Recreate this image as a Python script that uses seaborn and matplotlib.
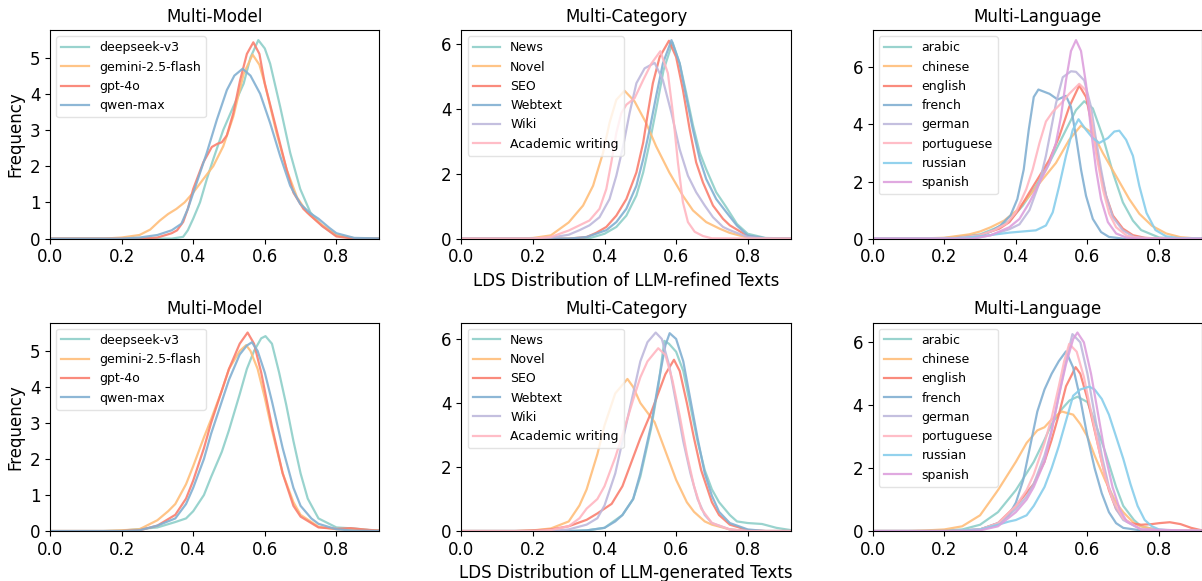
import matplotlib
matplotlib.use("Agg")
import matplotlib.pyplot as plt
import pandas as pd
import seaborn as sns

# colours used for the curves, in legend order
palette = ["#8ECFC9", "#FFBE7A", "#FA7F6F", "#82B0D2",
           "#BEB8DC", "#FFB6C1", "#87CEEB", "#DDA0DD"]

panel_titles = ["Multi-Model", "Multi-Category", "Multi-Language"]
row_xlabels = ["LDS Distribution of LLM-refined Texts",
               "LDS Distribution of LLM-generated Texts"]

# density curves, (LDS, density) pairs
refined_model = {
    "deepseek-v3": [(0.0, 0), (0.34, 0), (0.372, 0.05), (0.385, 0.23), (0.40, 0.55), (0.419, 1.0),
                    (0.438, 1.64), (0.456, 2.19), (0.484, 3.0), (0.512, 3.64), (0.541, 4.28), (0.56, 5.0),
                    (0.582, 5.48), (0.60, 5.25), (0.615, 4.83), (0.643, 3.64), (0.671, 2.37), (0.699, 1.37),
                    (0.727, 0.73), (0.76, 0.35), (0.80, 0.08), (0.85, 0.01), (0.95, 0)],
    "gemini-2.5-flash": [(0.0, 0), (0.15, 0), (0.20, 0.03), (0.25, 0.1), (0.28, 0.25), (0.307, 0.5),
                         (0.33, 0.68), (0.353, 0.82), (0.376, 1.0), (0.40, 1.27), (0.428, 1.64),
                         (0.456, 2.0), (0.484, 2.55), (0.512, 3.37), (0.541, 4.55), (0.566, 5.08),
                         (0.585, 4.8), (0.60, 4.28), (0.633, 2.91), (0.661, 1.91), (0.69, 1.14),
                         (0.718, 0.73), (0.75, 0.45), (0.80, 0.1), (0.85, 0.01), (0.95, 0)],
    "gpt-4o": [(0.0, 0), (0.25, 0), (0.30, 0.03), (0.34, 0.15), (0.355, 0.23), (0.372, 0.46),
               (0.385, 0.82), (0.40, 1.37), (0.428, 2.1), (0.452, 2.53), (0.468, 2.62), (0.48, 2.66),
               (0.494, 2.85), (0.512, 3.46), (0.531, 4.37), (0.55, 5.1), (0.568, 5.42), (0.585, 5.1),
               (0.60, 4.28), (0.633, 3.0), (0.661, 1.91), (0.68, 1.27), (0.708, 0.82), (0.727, 0.64),
               (0.76, 0.35), (0.80, 0.06), (0.85, 0), (0.95, 0)],
    "qwen-max": [(0.0, 0), (0.2, 0), (0.25, 0.03), (0.30, 0.1), (0.34, 0.23), (0.367, 0.41),
                 (0.385, 0.82), (0.41, 1.55), (0.438, 2.37), (0.466, 3.28), (0.494, 4.1),
                 (0.515, 4.5), (0.538, 4.69), (0.56, 4.5), (0.587, 4.0), (0.615, 3.19), (0.643, 2.28),
                 (0.671, 1.46), (0.699, 0.96), (0.727, 0.7), (0.75, 0.55), (0.78, 0.3), (0.80, 0.15),
                 (0.85, 0.02), (0.95, 0)],
}

refined_category = {
    "News": [(0.0, 0), (0.32, 0), (0.36, 0.02), (0.40, 0.15), (0.433, 0.36), (0.461, 0.71), (0.489, 1.33),
             (0.508, 2.04), (0.526, 2.96), (0.544, 3.97), (0.565, 5.2), (0.59, 6.05), (0.61, 5.4),
             (0.628, 4.5), (0.647, 3.5), (0.666, 2.65), (0.684, 2.14), (0.712, 1.43), (0.74, 0.97),
             (0.77, 0.45), (0.80, 0.15), (0.85, 0.02), (0.95, 0)],
    "Novel": [(0.0, 0), (0.15, 0), (0.20, 0.02), (0.25, 0.1), (0.30, 0.5), (0.34, 1.02), (0.368, 1.63),
              (0.396, 2.65), (0.414, 3.57), (0.433, 4.28), (0.456, 4.56), (0.484, 4.23), (0.516, 3.57),
              (0.544, 2.85), (0.581, 2.04), (0.619, 1.32), (0.647, 0.87), (0.684, 0.51), (0.721, 0.31),
              (0.749, 0.18), (0.80, 0.03), (0.85, 0), (0.95, 0)],
    "SEO": [(0.0, 0), (0.30, 0), (0.35, 0.05), (0.377, 0.18), (0.405, 0.36), (0.433, 0.71), (0.461, 1.22),
            (0.489, 2.04), (0.508, 2.96), (0.521, 3.87), (0.535, 4.79), (0.554, 5.6), (0.58, 6.1),
            (0.60, 5.6), (0.619, 4.59), (0.638, 3.36), (0.656, 2.35), (0.675, 1.73), (0.703, 1.02),
            (0.731, 0.61), (0.75, 0.41), (0.80, 0.08), (0.85, 0), (0.95, 0)],
    "Webtext": [(0.0, 0), (0.30, 0), (0.35, 0.05), (0.405, 0.26), (0.433, 0.51), (0.461, 0.92),
                (0.489, 1.63), (0.508, 2.45), (0.526, 3.36), (0.544, 4.38), (0.563, 5.4), (0.587, 6.12),
                (0.61, 5.4), (0.628, 4.38), (0.647, 3.36), (0.666, 2.45), (0.684, 1.84), (0.712, 1.22),
                (0.74, 0.82), (0.77, 0.4), (0.80, 0.1), (0.85, 0.01), (0.95, 0)],
    "Wiki": [(0.0, 0), (0.20, 0), (0.25, 0.03), (0.30, 0.12), (0.33, 0.26), (0.358, 0.41), (0.386, 0.66),
             (0.414, 1.22), (0.433, 1.94), (0.452, 2.85), (0.47, 3.87), (0.489, 4.79), (0.512, 5.25),
             (0.54, 5.42), (0.563, 4.89), (0.587, 3.87), (0.61, 2.75), (0.633, 1.94), (0.656, 1.43),
             (0.68, 1.02), (0.703, 0.66), (0.731, 0.36), (0.75, 0.26), (0.80, 0.05), (0.85, 0), (0.95, 0)],
    "Academic writing": [(0.0, 0), (0.20, 0), (0.25, 0.05), (0.30, 0.25), (0.33, 0.41), (0.358, 0.56),
                         (0.386, 0.92), (0.405, 1.53), (0.419, 2.35), (0.433, 3.26), (0.447, 3.87),
                         (0.461, 4.13), (0.484, 4.33), (0.508, 4.89), (0.531, 5.4), (0.556, 5.78),
                         (0.577, 5.1), (0.591, 3.87), (0.605, 2.35), (0.619, 1.12), (0.633, 0.51),
                         (0.652, 0.21), (0.675, 0.08), (0.70, 0.01), (0.95, 0)],
}

refined_language = {
    "arabic": [(0.0, 0), (0.15, 0), (0.20, 0.02), (0.30, 0.15), (0.35, 0.4), (0.382, 0.63), (0.419, 1.15),
               (0.456, 1.84), (0.484, 2.42), (0.512, 3.11), (0.54, 3.81), (0.568, 4.5), (0.591, 4.81),
               (0.615, 4.56), (0.643, 3.57), (0.671, 2.31), (0.699, 1.27), (0.727, 0.63), (0.75, 0.3),
               (0.80, 0.04), (0.85, 0), (0.95, 0)],
    "chinese": [(0.0, 0), (0.12, 0), (0.20, 0.03), (0.27, 0.15), (0.30, 0.25), (0.33, 0.4), (0.367, 0.63),
                (0.404, 1.0), (0.438, 1.5), (0.475, 2.08), (0.512, 2.65), (0.549, 3.46), (0.582, 3.96),
                (0.615, 3.69), (0.643, 3.0), (0.68, 2.19), (0.717, 1.38), (0.745, 0.87), (0.78, 0.45),
                (0.82, 0.18), (0.86, 0.05), (0.90, 0.01), (0.95, 0)],
    "english": [(0.0, 0), (0.22, 0), (0.30, 0.12), (0.354, 0.35), (0.382, 0.58), (0.41, 1.04),
                (0.438, 1.62), (0.466, 2.19), (0.494, 2.77), (0.521, 3.57), (0.549, 4.61), (0.577, 5.36),
                (0.596, 4.96), (0.615, 3.81), (0.633, 2.54), (0.652, 1.5), (0.671, 0.81), (0.699, 0.35),
                (0.727, 0.12), (0.76, 0.03), (0.80, 0), (0.95, 0)],
    "french": [(0.0, 0), (0.22, 0), (0.30, 0.1), (0.33, 0.25), (0.357, 0.46), (0.385, 0.81), (0.404, 1.38),
               (0.422, 2.42), (0.436, 3.81), (0.45, 4.96), (0.463, 5.22), (0.494, 5.07), (0.517, 4.87),
               (0.54, 5.0), (0.554, 4.61), (0.568, 3.57), (0.582, 2.42), (0.596, 1.5), (0.615, 0.69),
               (0.638, 0.23), (0.66, 0.06), (0.70, 0), (0.95, 0)],
    "german": [(0.0, 0), (0.28, 0), (0.33, 0.12), (0.382, 0.33), (0.41, 0.5), (0.438, 1.0), (0.466, 1.96),
               (0.484, 2.9), (0.498, 3.81), (0.512, 4.73), (0.531, 5.65), (0.554, 5.86), (0.568, 5.84),
               (0.591, 5.54), (0.61, 4.61), (0.624, 3.46), (0.638, 2.42), (0.652, 1.5), (0.671, 0.75),
               (0.699, 0.29), (0.73, 0.06), (0.78, 0), (0.95, 0)],
    "portuguese": [(0.0, 0), (0.22, 0), (0.30, 0.12), (0.34, 0.3), (0.373, 0.52), (0.40, 0.92),
                   (0.429, 1.73), (0.447, 2.42), (0.466, 3.35), (0.484, 4.1), (0.503, 4.44), (0.526, 4.73),
                   (0.549, 5.07), (0.577, 5.42), (0.596, 5.19), (0.61, 4.27), (0.624, 3.0), (0.643, 1.73),
                   (0.661, 0.87), (0.68, 0.4), (0.71, 0.1), (0.75, 0.01), (0.95, 0)],
    "russian": [(0.0, 0), (0.22, 0), (0.28, 0.06), (0.326, 0.12), (0.382, 0.21), (0.456, 0.29),
                (0.484, 0.46), (0.503, 0.92), (0.521, 1.84), (0.54, 2.9), (0.559, 3.81), (0.575, 4.18),
                (0.596, 3.81), (0.615, 3.52), (0.633, 3.35), (0.657, 3.52), (0.675, 3.75), (0.689, 3.78),
                (0.708, 3.46), (0.727, 2.9), (0.745, 1.84), (0.765, 0.9), (0.79, 0.3), (0.82, 0.08),
                (0.86, 0.01), (0.95, 0)],
    "spanish": [(0.0, 0), (0.28, 0), (0.33, 0.12), (0.382, 0.4), (0.41, 0.69), (0.438, 1.27), (0.466, 1.96),
                (0.494, 2.65), (0.512, 3.35), (0.526, 4.27), (0.54, 5.54), (0.554, 6.57), (0.568, 6.95),
                (0.582, 6.57), (0.596, 5.42), (0.61, 3.8), (0.624, 2.42), (0.638, 1.38), (0.657, 0.58),
                (0.68, 0.18), (0.71, 0.03), (0.75, 0), (0.95, 0)],
}

generated_model = {
    "deepseek-v3": [(0.0, 0), (0.15, 0), (0.20, 0.01), (0.30, 0.1), (0.35, 0.25), (0.38, 0.35),
                    (0.40, 0.55), (0.43, 1.0), (0.45, 1.5), (0.48, 2.2), (0.50, 2.8), (0.53, 3.8),
                    (0.55, 4.5), (0.57, 5.0), (0.59, 5.35), (0.602, 5.41), (0.62, 5.2), (0.64, 4.4),
                    (0.66, 3.5), (0.68, 2.5), (0.70, 1.6), (0.72, 0.9), (0.75, 0.35), (0.80, 0.1),
                    (0.85, 0.07), (0.90, 0.02), (0.95, 0)],
    "gemini-2.5-flash": [(0.0, 0), (0.15, 0), (0.20, 0.02), (0.25, 0.05), (0.30, 0.3), (0.33, 0.55),
                         (0.35, 0.75), (0.38, 1.3), (0.40, 1.8), (0.43, 2.6), (0.45, 3.1), (0.48, 3.9),
                         (0.50, 4.5), (0.53, 5.0), (0.548, 5.16), (0.56, 5.0), (0.58, 4.5), (0.60, 3.7),
                         (0.62, 2.8), (0.65, 1.6), (0.68, 0.8), (0.70, 0.45), (0.75, 0.12), (0.80, 0.05),
                         (0.85, 0.05), (0.90, 0.02), (0.95, 0)],
    "gpt-4o": [(0.0, 0), (0.20, 0), (0.25, 0.02), (0.30, 0.15), (0.35, 0.45), (0.38, 0.9), (0.40, 1.4),
               (0.43, 2.3), (0.45, 3.0), (0.48, 3.9), (0.50, 4.5), (0.53, 5.2), (0.552, 5.51), (0.57, 5.2),
               (0.59, 4.4), (0.60, 3.9), (0.62, 2.9), (0.65, 1.6), (0.68, 0.7), (0.70, 0.4), (0.75, 0.1),
               (0.80, 0.06), (0.84, 0.08), (0.88, 0.04), (0.92, 0.01), (0.95, 0)],
    "qwen-max": [(0.0, 0), (0.20, 0), (0.25, 0.02), (0.30, 0.15), (0.35, 0.35), (0.38, 0.75), (0.40, 1.2),
                 (0.43, 2.0), (0.45, 2.7), (0.48, 3.6), (0.50, 4.2), (0.53, 4.9), (0.55, 5.15),
                 (0.564, 5.24), (0.58, 5.0), (0.60, 4.4), (0.62, 3.6), (0.65, 2.3), (0.68, 1.2), (0.70, 0.7),
                 (0.73, 0.35), (0.75, 0.2), (0.80, 0.05), (0.85, 0.01), (0.95, 0)],
}

generated_category = {
    "News": [(0.0, 0), (0.30, 0), (0.35, 0.02), (0.40, 0.1), (0.45, 0.5), (0.48, 1.0), (0.50, 1.7),
             (0.53, 3.2), (0.55, 4.5), (0.567, 5.94), (0.58, 5.85), (0.60, 5.6), (0.62, 5.0), (0.64, 3.9),
             (0.66, 2.8), (0.68, 1.9), (0.70, 1.3), (0.72, 0.9), (0.75, 0.5), (0.77, 0.3), (0.80, 0.25),
             (0.84, 0.22), (0.88, 0.1), (0.92, 0.03), (0.95, 0)],
    "Novel": [(0.0, 0), (0.15, 0), (0.20, 0.02), (0.25, 0.08), (0.30, 0.3), (0.33, 0.8), (0.35, 1.3),
              (0.38, 2.4), (0.40, 3.3), (0.43, 4.3), (0.464, 4.75), (0.48, 4.5), (0.50, 4.0), (0.52, 3.7),
              (0.54, 3.4), (0.56, 2.8), (0.58, 2.2), (0.60, 1.6), (0.63, 0.9), (0.65, 0.6), (0.68, 0.3),
              (0.70, 0.2), (0.75, 0.05), (0.80, 0), (0.95, 0)],
    "SEO": [(0.0, 0), (0.15, 0), (0.20, 0.02), (0.25, 0.05), (0.30, 0.15), (0.35, 0.35), (0.38, 0.55),
            (0.40, 0.7), (0.42, 0.85), (0.45, 1.4), (0.48, 2.3), (0.50, 2.9), (0.53, 3.7), (0.55, 4.3),
            (0.57, 4.9), (0.594, 5.35), (0.61, 5.0), (0.63, 4.0), (0.65, 2.9), (0.67, 1.9), (0.70, 0.9),
            (0.72, 0.5), (0.75, 0.2), (0.80, 0.03), (0.85, 0), (0.95, 0)],
    "Webtext": [(0.0, 0), (0.30, 0), (0.35, 0.02), (0.40, 0.1), (0.43, 0.3), (0.45, 0.5), (0.48, 1.0),
                (0.50, 1.8), (0.53, 3.3), (0.55, 4.6), (0.57, 5.8), (0.582, 6.18), (0.60, 6.0), (0.62, 5.3),
                (0.64, 4.1), (0.66, 2.9), (0.68, 1.8), (0.70, 1.1), (0.72, 0.6), (0.75, 0.25), (0.80, 0.05),
                (0.85, 0), (0.95, 0)],
    "Wiki": [(0.0, 0), (0.25, 0), (0.30, 0.05), (0.35, 0.2), (0.38, 0.4), (0.40, 0.8), (0.43, 1.8),
             (0.45, 2.8), (0.48, 4.3), (0.50, 5.3), (0.52, 5.9), (0.543, 6.2), (0.56, 6.0), (0.58, 5.2),
             (0.60, 4.0), (0.62, 2.8), (0.64, 1.8), (0.66, 1.0), (0.68, 0.5), (0.70, 0.25), (0.75, 0.05),
             (0.80, 0), (0.95, 0)],
    "Academic writing": [(0.0, 0), (0.20, 0), (0.25, 0.03), (0.30, 0.15), (0.33, 0.4), (0.35, 0.7),
                         (0.38, 1.0), (0.40, 1.4), (0.43, 2.3), (0.45, 3.0), (0.48, 4.1), (0.50, 4.8),
                         (0.52, 5.3), (0.55, 5.71), (0.57, 5.5), (0.59, 4.7), (0.61, 3.6), (0.63, 2.4),
                         (0.65, 1.4), (0.67, 0.7), (0.70, 0.25), (0.75, 0.05), (0.80, 0), (0.95, 0)],
}

generated_language = {
    "arabic": [(0.0, 0), (0.15, 0), (0.20, 0.02), (0.25, 0.05), (0.30, 0.2), (0.35, 0.6), (0.40, 1.3),
               (0.45, 2.2), (0.48, 2.9), (0.50, 3.4), (0.53, 3.9), (0.55, 4.15), (0.572, 4.27), (0.60, 4.1),
               (0.62, 3.5), (0.65, 2.5), (0.68, 1.4), (0.70, 0.8), (0.73, 0.35), (0.75, 0.15), (0.80, 0.02),
               (0.95, 0)],
    "chinese": [(0.0, 0), (0.10, 0), (0.15, 0.02), (0.20, 0.05), (0.25, 0.15), (0.30, 0.5), (0.35, 1.3),
                (0.40, 2.2), (0.43, 2.8), (0.46, 3.2), (0.48, 3.3), (0.50, 3.55), (0.528, 3.8), (0.56, 3.7),
                (0.58, 3.4), (0.60, 3.0), (0.62, 2.4), (0.65, 1.6), (0.68, 0.9), (0.70, 0.6), (0.73, 0.25),
                (0.75, 0.15), (0.80, 0.02), (0.95, 0)],
    "english": [(0.0, 0), (0.22, 0), (0.30, 0.05), (0.35, 0.25), (0.40, 0.8), (0.45, 1.5), (0.48, 2.2),
                (0.50, 2.9), (0.52, 3.7), (0.54, 4.6), (0.567, 5.21), (0.58, 5.0), (0.60, 4.2), (0.62, 3.2),
                (0.64, 2.2), (0.66, 1.3), (0.68, 0.7), (0.70, 0.4), (0.72, 0.25), (0.75, 0.2), (0.78, 0.22),
                (0.80, 0.25), (0.83, 0.28), (0.86, 0.22), (0.89, 0.1), (0.92, 0.02), (0.95, 0)],
    "french": [(0.0, 0), (0.22, 0), (0.30, 0.05), (0.35, 0.25), (0.38, 0.5), (0.40, 0.9), (0.42, 1.6),
               (0.44, 2.7), (0.46, 3.8), (0.48, 4.5), (0.50, 5.0), (0.52, 5.4), (0.54, 5.71), (0.56, 5.2),
               (0.58, 4.2), (0.60, 3.0), (0.62, 2.0), (0.64, 1.2), (0.66, 0.6), (0.68, 0.25), (0.70, 0.1),
               (0.75, 0.02), (0.95, 0)],
    "german": [(0.0, 0), (0.22, 0), (0.30, 0.05), (0.35, 0.2), (0.40, 0.7), (0.43, 1.1), (0.45, 1.5),
               (0.48, 2.4), (0.50, 3.2), (0.52, 4.3), (0.54, 5.4), (0.558, 6.26), (0.58, 6.0), (0.60, 5.0),
               (0.62, 3.7), (0.64, 2.4), (0.66, 1.4), (0.68, 0.7), (0.70, 0.35), (0.75, 0.05), (0.95, 0)],
    "portuguese": [(0.0, 0), (0.22, 0), (0.30, 0.05), (0.35, 0.25), (0.40, 0.8), (0.43, 1.3), (0.45, 1.8),
                   (0.48, 2.8), (0.50, 3.6), (0.52, 4.6), (0.535, 5.4), (0.549, 5.95), (0.57, 5.7),
                   (0.59, 4.9), (0.61, 3.8), (0.63, 2.7), (0.65, 1.7), (0.67, 1.0), (0.70, 0.4),
                   (0.75, 0.05), (0.95, 0)],
    "russian": [(0.0, 0), (0.22, 0), (0.30, 0.05), (0.35, 0.2), (0.38, 0.3), (0.40, 0.35), (0.43, 0.5),
                (0.45, 0.8), (0.48, 1.4), (0.50, 2.0), (0.52, 2.7), (0.54, 3.5), (0.56, 4.3), (0.58, 4.5),
                (0.605, 4.59), (0.62, 4.5), (0.64, 4.2), (0.66, 3.7), (0.68, 3.0), (0.70, 2.3), (0.72, 1.5),
                (0.74, 0.8), (0.76, 0.35), (0.78, 0.15), (0.80, 0.05), (0.85, 0), (0.95, 0)],
    "spanish": [(0.0, 0), (0.25, 0), (0.30, 0.02), (0.35, 0.15), (0.40, 0.6), (0.43, 1.0), (0.45, 1.4),
                (0.48, 2.2), (0.50, 3.2), (0.52, 4.3), (0.54, 5.3), (0.56, 6.1), (0.572, 6.31), (0.59, 6.0),
                (0.61, 5.0), (0.63, 3.7), (0.65, 2.4), (0.67, 1.4), (0.69, 0.7), (0.71, 0.3), (0.75, 0.05),
                (0.95, 0)],
}

panels = [[refined_model, refined_category, refined_language],
          [generated_model, generated_category, generated_language]]


def to_frame(curves):
    rows = []
    for name, pts in curves.items():
        for x, y in pts:
            rows.append({"lds": x, "density": y, "group": name})
    return pd.DataFrame(rows)


fig, axes = plt.subplots(2, 3, figsize=(12.02, 5.81), dpi=100)
fig.subplots_adjust(left=0.0416, right=1.0, top=0.948, bottom=0.086,
                    wspace=0.249, hspace=0.403)

for r in range(2):
    for c in range(3):
        ax = axes[r, c]
        curves = panels[r][c]
        df = to_frame(curves)
        names = list(curves.keys())
        sns.lineplot(data=df, x="lds", y="density", hue="group",
                     hue_order=names, palette=palette[:len(names)],
                     estimator=None, sort=False, linewidth=1.6, alpha=0.9, ax=ax)
        ax.set_xlim(0, 0.92)
        ax.set_ylim(0, df["density"].max() * 1.05)
        ax.set_title(panel_titles[c], fontsize=12)
        ax.set_xlabel(row_xlabels[r] if c == 1 else "", fontsize=12)
        ax.set_ylabel("Frequency" if c == 0 else "", fontsize=12)
        ax.tick_params(labelsize=12)
        ax.legend(loc="upper left", fontsize=9, labelspacing=0.5,
                  handlelength=2.2, edgecolor="#dddddd")

fig.savefig("out.png", dpi=100)
